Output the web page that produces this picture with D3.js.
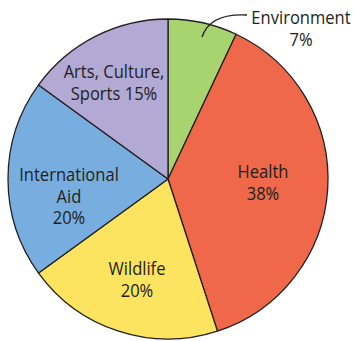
<!DOCTYPE html>
<html><head><meta charset="utf-8">
<script src="https://cdn.jsdelivr.net/npm/d3@7"></script>
<style>html,body{margin:0;padding:0;background:#fff;}</style>
</head><body>
<svg id="c" width="353" height="341"></svg>
<script>
const categories = ["Environment","Health","Wildlife","International Aid","Arts, Culture, Sports"];
const values = [7, 38, 20, 20, 15];
const colors = ["#a8d46f","#ef6849","#fde460","#78aedf","#b2a9d5"];
const labelLines = [["Environment","7%"],["Health","38%"],["Wildlife","20%"],["International","Aid","20%"],["Arts, Culture,","Sports 15%"]];

const svg = d3.select("#c");
const cx = 168, cy = 179, r = 160;
const pie = d3.pie().sort(null).value(d => d)(values);
const arc = d3.arc().innerRadius(0).outerRadius(r);
const g = svg.append("g").attr("transform", `translate(${cx},${cy})`);
g.selectAll("path").data(pie).join("path")
  .attr("d", arc)
  .attr("fill", (d,i) => colors[i])
  .attr("stroke", "#231f20")
  .attr("stroke-width", 1.3)
  .attr("stroke-linejoin", "round");

// label anchor positions (first-line baseline, absolute)
const labelPos = [[301,24],[263,178],[137,275],[69,181],[114,78]];
const fs = 18, lh = 21.5, sx = 0.92;
labelLines.forEach((lines, i) => {
  lines.forEach((s, j) => {
    svg.append("text")
      .attr("transform", `translate(${labelPos[i][0]},${labelPos[i][1] + j*lh}) scale(${sx},1)`)
      .attr("text-anchor", "middle")
      .attr("font-family", "'Open Sans', sans-serif")
      .attr("font-size", fs)
      .attr("fill", "#231f20")
      .text(s);
  });
});
// leader line for Environment
svg.append("path")
  .attr("d", "M202,37 Q210,13 247,15")
  .attr("fill", "none")
  .attr("stroke", "#231f20")
  .attr("stroke-width", 1.3);
</script>
</body></html>
